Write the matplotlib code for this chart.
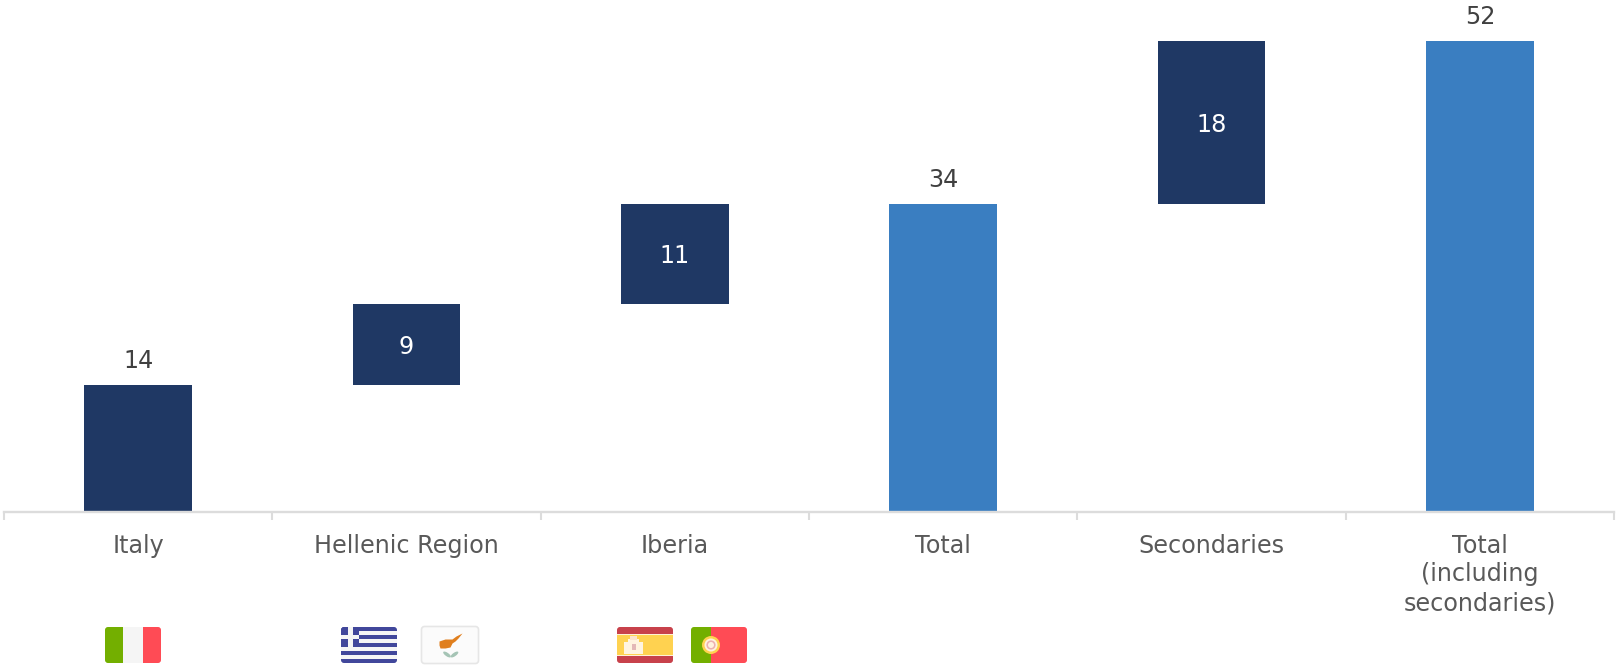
import matplotlib
matplotlib.use('Agg')
import matplotlib.pyplot as plt
from matplotlib.patches import Rectangle, FancyBboxPatch, Circle, Polygon, Ellipse

plt.rcParams['font.family'] = ['DejaVu Sans']

categories = ['Italy', 'Hellenic Region', 'Iberia', 'Total', 'Secondaries',
              'Total\n(including\nsecondaries)']
values = [14, 9, 11, 34, 18, 52]
bases = [0, 14, 23, 0, 34, 0]
is_total = [False, False, False, True, False, True]

DARK = '#1F3864'
BLUE = '#3A7EC1'
AXIS = '#DCDCDC'
GREEN = '#73AF00'
WHITE = '#F5F5F5'
RED = '#FF4B55'
NAVY = '#41479B'
SP_RED = '#C8414B'
SP_YEL = '#FFD250'
ORANGE = '#E07F1E'
FONT = 17.2

W, H = 1619, 667


def add(ov, clip, *patches):
    for p in patches:
        ov.add_patch(p)
        p.set_clip_path(clip)


def flag_base(ov, x, y, w, h, edge='none'):
    clip = FancyBboxPatch((x + 3, y + 3), w - 6, h - 6, boxstyle='round,pad=3',
                          fc='none', ec=edge, lw=1.2, zorder=5)
    ov.add_patch(clip)
    return clip


def rect(x, y, w, h, c):
    return Rectangle((x, y), w, h, fc=c, ec='none', lw=0)


def italy(ov, x, y, w, h):
    clip = flag_base(ov, x, y, w, h)
    add(ov, clip, rect(x, y, 18, h, GREEN), rect(x + 18, y, 20, h, WHITE),
        rect(x + 38, y, w - 38, h, RED))


def greece(ov, x, y, w, h):
    clip = flag_base(ov, x, y, w, h)
    band = h / 9
    patches = [rect(x, y + i * band, w, band, NAVY if i % 2 == 0 else WHITE) for i in range(9)]
    patches.append(rect(x, y, 18, 5 * band, NAVY))
    patches.append(rect(x + 7, y, 4.5, 5 * band, WHITE))
    patches.append(rect(x, y + 2 * band, 18, band, WHITE))
    add(ov, clip, *patches)


def cyprus(ov, x, y, w, h):
    clip = flag_base(ov, x, y, w, h, edge='#E6E6E6')
    island = [(18, 15), (24, 13), (31, 13), (35, 10), (41, 7), (37, 12), (34, 15),
              (31, 17), (29, 21), (24, 22), (19, 22), (18, 19)]
    island = [(x + a, y + b) for a, b in island]
    add(ov, clip, rect(x, y, w, h, '#FBFBFB'), Polygon(island, fc=ORANGE, ec='none'),
        Ellipse((x + 25.5, y + 28), 9, 3.5, angle=35, fc='#A5C4B5', ec='none'),
        Ellipse((x + 33, y + 28), 9, 3.5, angle=-35, fc='#A5C4B5', ec='none'))


def spain(ov, x, y, w, h):
    clip = flag_base(ov, x, y, w, h)
    add(ov, clip, rect(x, y, w, h, SP_RED), rect(x, y + 7, w, h - 14, '#FFF2D5'),
        rect(x, y + 8, w, h - 16, SP_YEL),
        rect(x + 7, y + 15, 4, 12, '#FFF4E0'), rect(x + 22, y + 15, 4, 12, '#FFF4E0'),
        rect(x + 11, y + 12, 11, 15, '#FFF4E0'), rect(x + 13, y + 9, 7, 4, '#FBE3CF'),
        rect(x + 15, y + 17, 4, 6, '#E3B8B8'))


def portugal(ov, x, y, w, h):
    clip = flag_base(ov, x, y, w, h)
    cx, cy = x + 20, y + h / 2
    add(ov, clip, rect(x, y, 20, h, GREEN), rect(x + 20, y, w - 20, h, RED),
        Circle((cx, cy), 9, fc=SP_YEL, ec='none'), Circle((cx, cy), 6.5, fc='#FFF2E0', ec='none'),
        Circle((cx, cy), 4.6, fc='#EDB0B0', ec='none'), Circle((cx, cy), 3, fc='#FFF2E0', ec='none'))


fig = plt.figure(figsize=(W / 100, H / 100), dpi=100, facecolor='white')
ax = fig.add_axes([4 / W, 1 - 512 / H, 1610 / W, 471 / H])

x = list(range(len(categories)))
colors = [BLUE if t else DARK for t in is_total]
ax.bar(x, values, bottom=bases, width=0.402, color=colors, linewidth=0, zorder=2)

ax.set_xlim(-0.5, 5.5)
ax.set_ylim(0, 52)
ax.set_yticks([])
for s in ['top', 'left', 'right']:
    ax.spines[s].set_visible(False)
ax.spines['bottom'].set_color(AXIS)
ax.spines['bottom'].set_linewidth(1.7)
ax.set_xticks(x)
ax.set_xticklabels(categories, fontsize=FONT, color='#595959', linespacing=1.25)
ax.set_xticks([i - 0.5 for i in range(len(categories) + 1)], minor=True)
ax.tick_params(axis='x', which='major', length=0, pad=15.5)
ax.tick_params(axis='x', which='minor', length=6, width=1.5, color=AXIS)

for i, v in enumerate(values):
    if bases[i] > 0:
        ax.annotate(str(v), (i, bases[i] + v / 2), xytext=(0, -1.5), textcoords='offset points',
                    color='white', fontsize=FONT, ha='center', va='center', zorder=3)
    else:
        ax.annotate(str(v), (i, v), xytext=(0, 17.5), textcoords='offset points',
                    color='#404040', fontsize=FONT, ha='center', va='center',
                    annotation_clip=False)

# flags under the regions, laid out in pixel coordinates
ov = fig.add_axes([0, 0, 1, 1], facecolor='none')
ov.set_xlim(0, W)
ov.set_ylim(H, 0)
ov.axis('off')
italy(ov, 105, 627, 56, 36)
greece(ov, 341, 627, 56, 36)
cyprus(ov, 421.5, 626.5, 57, 37)
spain(ov, 617, 627, 56, 36)
portugal(ov, 691, 627, 56, 36)

fig.savefig('out.png', dpi=100)
